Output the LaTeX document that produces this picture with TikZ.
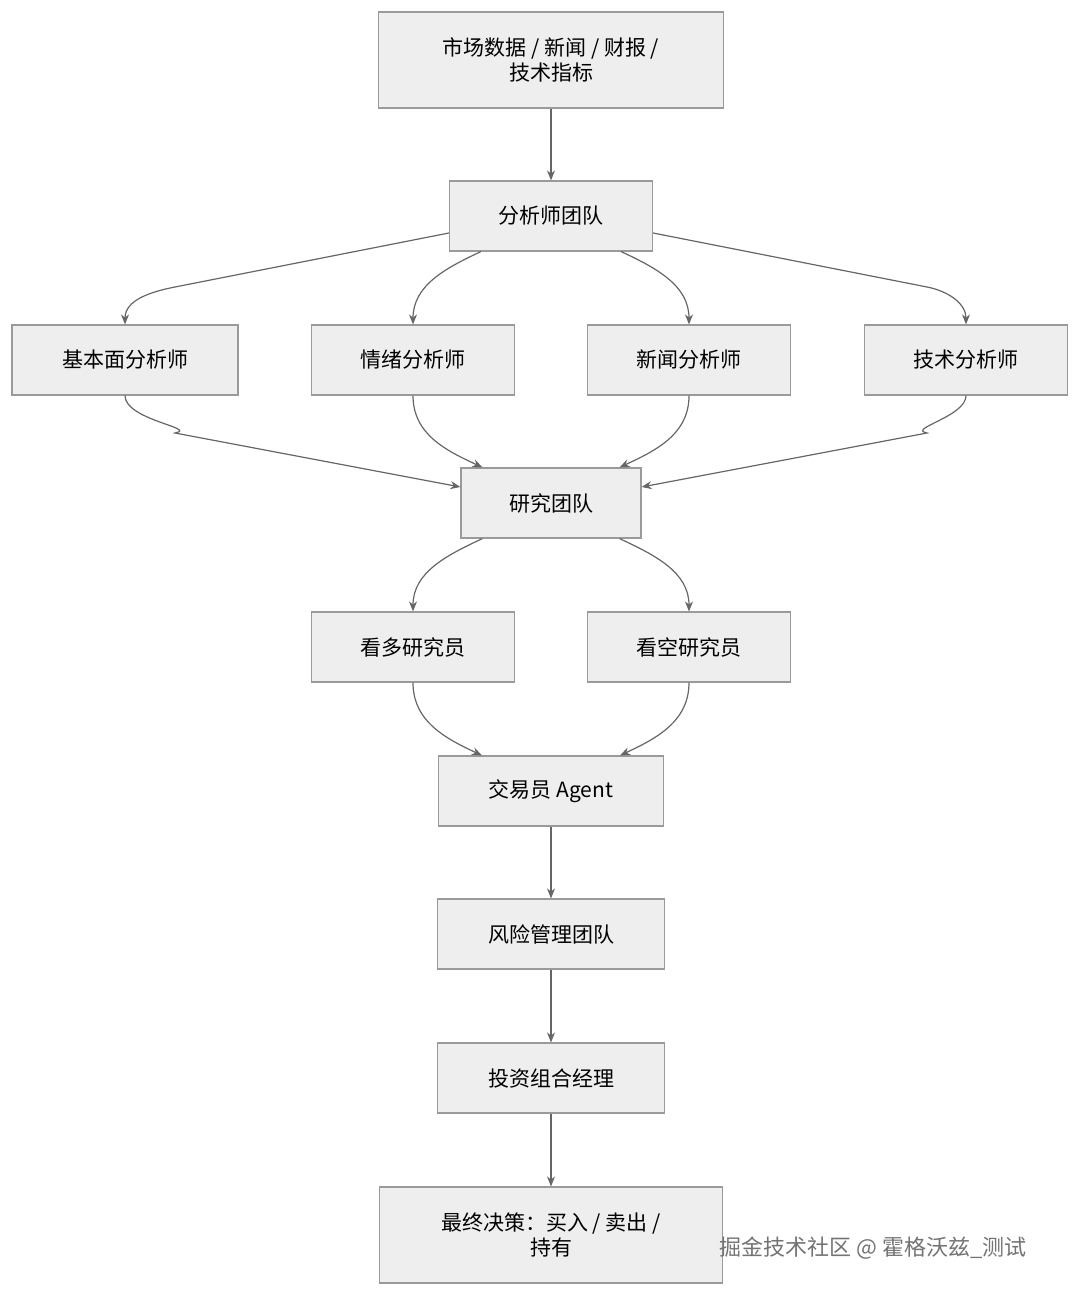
\documentclass[tikz,border=0pt]{standalone}
\usepackage{fontspec}
\newfontfamily\cjk{Noto Sans CJK SC}
\usetikzlibrary{arrows.meta}
\definecolor{boxfill}{HTML}{EEEEEE}
\definecolor{boxline}{HTML}{9A9A9A}
\definecolor{edgecol}{HTML}{666666}
\begin{document}
\begin{tikzpicture}[x=1pt,y=-1pt,
  box/.style={draw=boxline,fill=boxfill,line width=1.2pt,minimum height=70pt,font=\cjk\fontsize{21}{25}\selectfont,align=center,inner sep=0pt},
  flow/.style={draw=edgecol,line width=1.2pt,-{Stealth[length=10pt,width=8pt]}}]
  \useasboundingbox (0,0) rectangle (1080,1295);
  \node[box,minimum width=345pt,minimum height=96pt] (src) at (551,60) {市场数据 / 新闻 / 财报 /\\技术指标};
  \node[box,minimum width=203pt] (ana) at (551,216) {分析师团队};
  \node[box,minimum width=226pt] (fund) at (125,360) {基本面分析师};
  \node[box,minimum width=203pt] (emo) at (413,360) {情绪分析师};
  \node[box,minimum width=203pt] (news) at (689,360) {新闻分析师};
  \node[box,minimum width=203pt] (tech) at (966,360) {技术分析师};
  \node[box,minimum width=180pt] (res) at (551,503) {研究团队};
  \node[box,minimum width=203pt] (bull) at (413,647) {看多研究员};
  \node[box,minimum width=203pt] (bear) at (689,647) {看空研究员};
  \node[box,minimum width=225pt] (trade) at (551,791) {交易员 Agent};
  \node[box,minimum width=227pt] (risk) at (551,934) {风险管理团队};
  \node[box,minimum width=227pt] (pm) at (551,1078) {投资组合经理};
  \node[box,minimum width=343pt,minimum height=96pt] (dec) at (551,1235) {最终决策：买入 / 卖出 /\\持有};
  \node[font=\cjk\fontsize{22}{26}\selectfont,text=white,
    preaction={}] (mark) at (873,1248) {\textcolor{black!55}{掘金技术社区 @ 霍格沃兹\_测试}};

  \draw[flow] (src) -- (ana);
  \draw[flow] ([yshift=-17pt]ana.west) -- (175,287) to[out=191,in=90] (fund.north);
  \draw[flow] ([xshift=32pt]ana.south west) to[out=205,in=90] (emo.north);
  \draw[flow] ([xshift=-32pt]ana.south east) to[out=-25,in=90] (news.north);
  \draw[flow] ([yshift=-17pt]ana.east) -- (927,287) to[out=-11,in=90] (tech.north);

  \draw[flow] (fund.south) to[out=-90,in=11] (175,433) -- ([yshift=16pt]res.west);
  \draw[flow] (emo.south) to[out=-90,in=155] ([xshift=22pt]res.north west);
  \draw[flow] (news.south) to[out=-90,in=25] ([xshift=-22pt]res.north east);
  \draw[flow] (tech.south) to[out=-90,in=169] (927,433) -- ([yshift=16pt]res.east);

  \draw[flow] ([xshift=22pt]res.south west) to[out=205,in=90] (bull.north);
  \draw[flow] ([xshift=-22pt]res.south east) to[out=-25,in=90] (bear.north);
  \draw[flow] (bull.south) to[out=-90,in=155] ([xshift=44pt]trade.north west);
  \draw[flow] (bear.south) to[out=-90,in=25] ([xshift=-44pt]trade.north east);

  \draw[flow] (trade) -- (risk);
  \draw[flow] (risk) -- (pm);
  \draw[flow] (pm) -- (dec);
\end{tikzpicture}
\end{document}
